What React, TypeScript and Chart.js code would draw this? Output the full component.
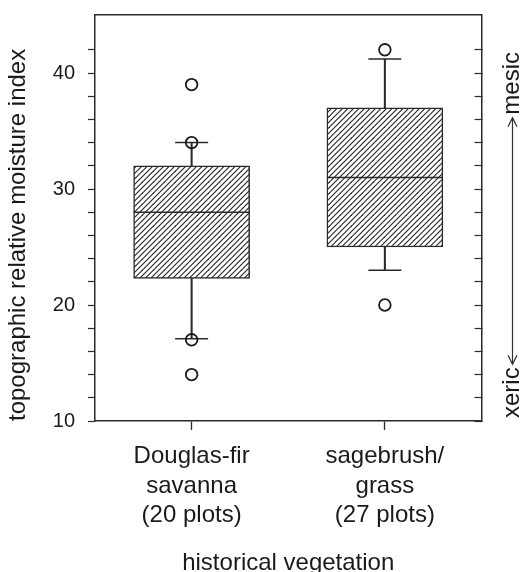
import React, { useEffect, useRef } from 'react';
import { Chart, registerables } from 'chart.js';

Chart.register(...registerables);

// ---- data ----
const categories: string[][] = [
  ['Douglas-fir', 'savanna', '(20 plots)'],
  ['sagebrush/', 'grass', '(27 plots)'],
];
const q1 = [22.3, 25];
const medians = [28, 31];
const q3 = [32, 37];
const whiskerLow = [17.1, 23];
const whiskerHigh = [34, 41.2];
const outliersDouglasFir = [39, 34, 17, 14];
const outliersSagebrush = [42, 20];
const outlierSets = [outliersDouglasFir, outliersSagebrush];
const yTickLabels = [10, 20, 30, 40];
const xTitle = 'historical vegetation';
const yTitle = 'topographic relative moisture index';
const lowLabel = 'xeric';
const highLabel = 'mesic';

const FONT = "'Liberation Sans', Arial, Helvetica, sans-serif";
const INK = '#1a1a1a';
const LINE = '#2a2a2a';

function makeHatch(): CanvasPattern | string {
  const s = 11;
  const c = document.createElement('canvas');
  c.width = s;
  c.height = s;
  const g = c.getContext('2d');
  if (!g) return '#fff';
  g.fillStyle = '#ffffff';
  g.fillRect(0, 0, s, s);
  g.strokeStyle = '#222';
  g.lineWidth = 1.1;
  for (const k of [0, 5.5, 11, 16.5, 22]) {
    g.beginPath();
    g.moveTo(-s, k + s);
    g.lineTo(k + s, -s);
    g.stroke();
  }
  const p = g.createPattern(c, 'repeat');
  return p || '#fff';
}

const sideLabelPlugin = {
  id: 'sideLabel',
  afterDraw(chart: any) {
    const { ctx, chartArea } = chart;
    const baseX = chartArea.right + 37.5;
    const arrowX = chartArea.right + 31;
    ctx.save();
    ctx.fillStyle = INK;
    ctx.font = `24px ${FONT}`;
    ctx.textBaseline = 'alphabetic';
    const lowStart = chartArea.bottom - 3;
    const highEnd = chartArea.top + 37;
    const lowW = ctx.measureText(lowLabel).width;
    const highW = ctx.measureText(highLabel).width;
    ctx.save();
    ctx.translate(baseX, lowStart);
    ctx.rotate(-Math.PI / 2);
    ctx.textAlign = 'left';
    ctx.fillText(lowLabel, 0, 0);
    ctx.restore();
    ctx.save();
    ctx.translate(baseX, highEnd);
    ctx.rotate(-Math.PI / 2);
    ctx.textAlign = 'right';
    ctx.fillText(highLabel, 0, 0);
    ctx.restore();
    const yTop = highEnd + highW + 3;
    const yBot = lowStart - lowW - 3;
    ctx.strokeStyle = '#333';
    ctx.lineWidth = 1.2;
    ctx.beginPath();
    ctx.moveTo(arrowX, yTop);
    ctx.lineTo(arrowX, yBot);
    ctx.moveTo(arrowX - 4.5, yTop + 9);
    ctx.lineTo(arrowX, yTop);
    ctx.lineTo(arrowX + 4.5, yTop + 9);
    ctx.moveTo(arrowX - 4.5, yBot - 9);
    ctx.lineTo(arrowX, yBot);
    ctx.lineTo(arrowX + 4.5, yBot - 9);
    ctx.stroke();
    ctx.restore();
  },
};

function zeroPad(s: any) {
  s.paddingTop = 0;
  s.paddingBottom = 0;
  s.paddingLeft = 0;
  s.paddingRight = 0;
}

export default function App() {
  const ref = useRef<HTMLCanvasElement | null>(null);

  useEffect(() => {
    document.body.style.margin = '0';
    const canvas = ref.current;
    if (!canvas) return;
    const hatch = makeHatch();

    const boxData = categories.map((_, i) => ({ x: i + 1, y: [q1[i], q3[i]] }));
    const upperWhisker = categories.map((_, i) => ({ x: i + 1, y: [q3[i], whiskerHigh[i]] }));
    const lowerWhisker = categories.map((_, i) => ({ x: i + 1, y: [whiskerLow[i], q1[i]] }));
    const medianData = categories.map((_, i) => ({ x: i + 1, y: medians[i] }));
    const capData = categories.flatMap((_, i) => [
      { x: i + 1, y: whiskerHigh[i] },
      { x: i + 1, y: whiskerLow[i] },
    ]);
    const outlierData = outlierSets.flatMap((set, i) => set.map((v) => ({ x: i + 1, y: v })));

    const tickFilter = (s: any) => {
      s.ticks = s.ticks.filter((t: any) => Math.abs(t.value % 2) < 1e-6);
    };

    const chart = new Chart(canvas, {
      type: 'bar',
      data: {
        datasets: [
          {
            type: 'line',
            label: 'outliers',
            data: outlierData as any,
            showLine: false,
            pointStyle: 'circle',
            pointRadius: 5.8,
            pointHoverRadius: 5.8,
            pointBorderWidth: 1.8,
            pointBorderColor: INK,
            pointBackgroundColor: 'rgba(0,0,0,0)',
            order: 0,
            xAxisID: 'x',
            yAxisID: 'y',
          } as any,
          {
            type: 'line',
            label: 'caps',
            data: capData as any,
            showLine: false,
            pointStyle: 'line',
            pointRadius: 16.5,
            pointHoverRadius: 16.5,
            pointBorderWidth: 1.5,
            pointBorderColor: LINE,
            order: 1,
            xAxisID: 'x',
            yAxisID: 'y',
          } as any,
          {
            type: 'line',
            label: 'median',
            data: medianData as any,
            showLine: false,
            pointStyle: 'line',
            pointRadius: 58,
            pointHoverRadius: 58,
            pointBorderWidth: 1.5,
            pointBorderColor: LINE,
            order: 2,
            xAxisID: 'x',
            yAxisID: 'y',
          } as any,
          {
            type: 'bar',
            label: 'box',
            data: boxData as any,
            backgroundColor: hatch as any,
            borderColor: LINE,
            borderWidth: 1.5,
            borderSkipped: false,
            barThickness: 116,
            grouped: false,
            order: 3,
            xAxisID: 'x',
            yAxisID: 'y',
          } as any,
          {
            type: 'bar',
            label: 'upper whisker',
            data: upperWhisker as any,
            backgroundColor: LINE,
            borderWidth: 0,
            barThickness: 1.4,
            grouped: false,
            order: 4,
            xAxisID: 'x',
            yAxisID: 'y',
          } as any,
          {
            type: 'bar',
            label: 'lower whisker',
            data: lowerWhisker as any,
            backgroundColor: LINE,
            borderWidth: 0,
            barThickness: 1.4,
            grouped: false,
            order: 4,
            xAxisID: 'x',
            yAxisID: 'y',
          } as any,
        ],
      },
      options: {
        responsive: false,
        animation: false,
        events: [],
        layout: { autoPadding: false, padding: { top: 15, right: 0, bottom: 0, left: 0 } },
        plugins: {
          legend: { display: false },
          tooltip: { enabled: false },
        },
        scales: {
          x: {
            type: 'linear',
            position: 'bottom',
            min: 0.5,
            max: 2.5,
            offset: false,
            afterBuildTicks: (s: any) => {
              s.ticks = categories.map((_, i) => ({ value: i + 1 }));
            },
            afterFit: (s: any) => {
              s.height = 151;
              zeroPad(s);
            },
            ticks: {
              autoSkip: false,
              maxRotation: 0,
              padding: 12,
              color: INK,
              font: { family: FONT, size: 24, lineHeight: 1.23 },
              callback: (v: any) => categories[Math.round(Number(v)) - 1] ?? '',
            },
            grid: { offset: false, drawOnChartArea: false, tickLength: 9, tickColor: LINE, tickWidth: 1.3 },
            border: { color: LINE, width: 1.5 },
            title: {
              display: true,
              text: xTitle,
              color: INK,
              font: { family: FONT, size: 24, lineHeight: 1.2 },
              padding: { top: 0, bottom: -6 },
            },
          },
          x2: {
            type: 'linear',
            position: 'top',
            min: 0.5,
            max: 2.5,
            offset: false,
            ticks: { display: false },
            grid: { offset: false, drawOnChartArea: false, drawTicks: false },
            border: { color: LINE, width: 1.5 },
            afterFit: (s: any) => {
              s.height = 0;
              zeroPad(s);
            },
          },
          y: {
            type: 'linear',
            position: 'left',
            min: 10,
            max: 45,
            afterBuildTicks: tickFilter,
            afterFit: (s: any) => {
              s.width = 95;
              zeroPad(s);
            },
            ticks: {
              stepSize: 2,
              autoSkip: false,
              padding: 13,
              color: INK,
              font: { family: FONT, size: 20 },
              callback: (v: any) => (yTickLabels.includes(Number(v)) ? String(v) : ''),
            },
            grid: { drawOnChartArea: false, tickLength: 7, tickColor: LINE, tickWidth: 1.2 },
            border: { color: LINE, width: 1.5 },
            title: {
              display: true,
              text: yTitle,
              align: 'start',
              color: INK,
              font: { family: FONT, size: 24, lineHeight: 1.2 },
              padding: { top: 4.3, bottom: 0 },
            },
          },
          y2: {
            type: 'linear',
            position: 'right',
            min: 10,
            max: 45,
            afterBuildTicks: tickFilter,
            afterFit: (s: any) => {
              s.width = 43.5;
              zeroPad(s);
            },
            ticks: { display: false, stepSize: 2, autoSkip: false },
            grid: { drawOnChartArea: false, tickLength: -7, tickColor: LINE, tickWidth: 1.2 },
            border: { color: LINE, width: 1.5 },
          },
        },
      } as any,
      plugins: [sideLabelPlugin],
    });

    return () => {
      chart.destroy();
    };
  }, []);

  return (
    <div style={{ width: 525, height: 572, background: '#fff' }}>
      <canvas ref={ref} width={525} height={572} style={{ display: 'block' }} />
    </div>
  );
}
